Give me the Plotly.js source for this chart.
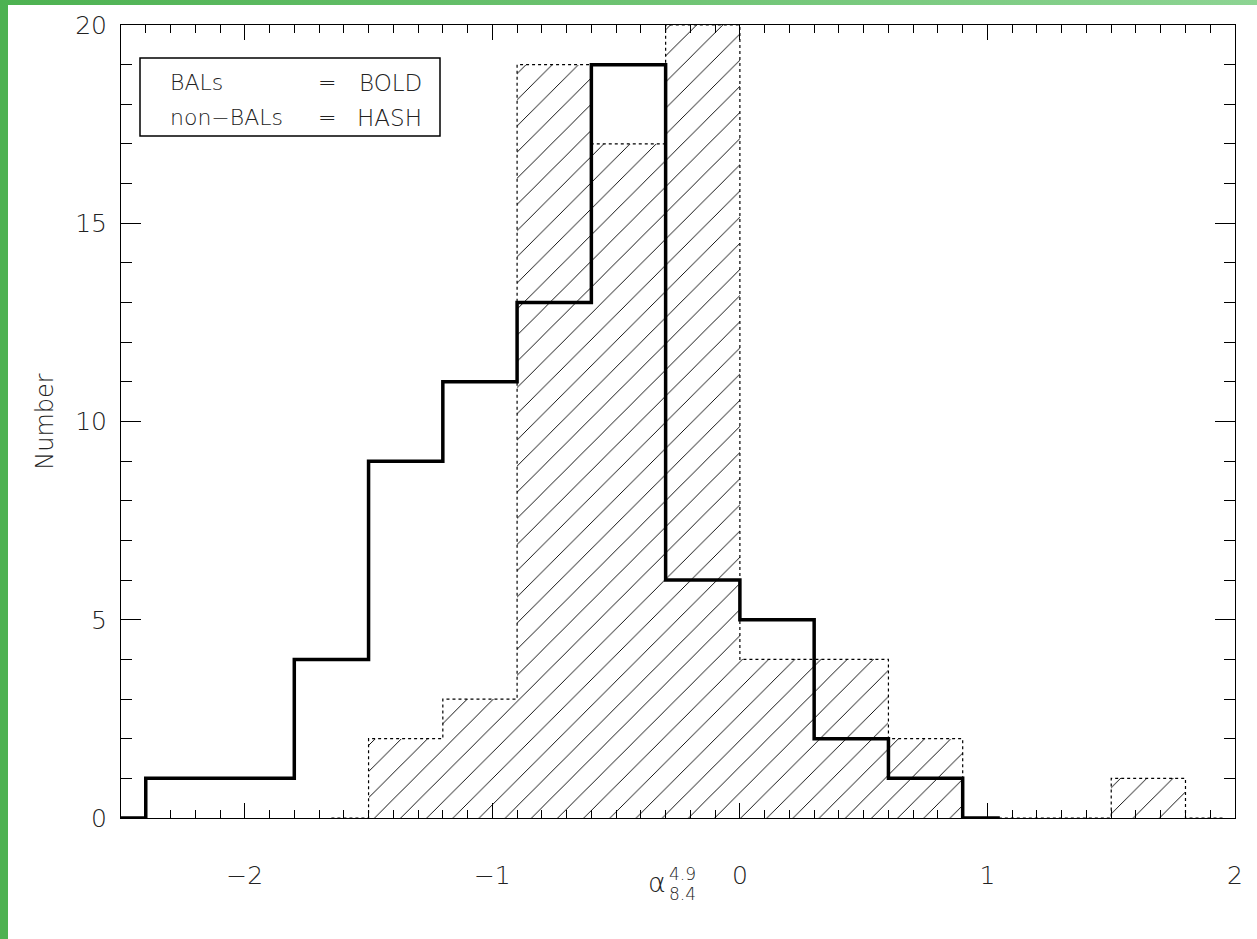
<!DOCTYPE html>
<html>
<head>
<meta charset="utf-8">
<script src="https://cdn.plot.ly/plotly-3.0.1.min.js"></script>
<style>
  html, body { margin:0; padding:0; background:#fff; }
  #wrap { position:relative; width:1257px; height:939px; overflow:hidden; }
  #leftbar { position:absolute; left:0; top:0; width:8px; height:939px; background:#4db251; z-index:5; }
  #topbar { position:absolute; left:0; top:0; width:1257px; height:5px; background:linear-gradient(to right,#4db251,#8dd493); z-index:5; }
  #chart { position:absolute; left:0; top:0; width:1257px; height:939px; }
</style>
</head>
<body>
<div id="wrap">
  <div id="chart"></div>
  <div id="leftbar"></div>
  <div id="topbar"></div>
</div>
<script>
// Bin centers (bin width 0.3) and counts, drawn in IDL psym=10 (histogram step) style
const balCenters    = [-2.55, -2.25, -1.95, -1.65, -1.35, -1.05, -0.75, -0.45, -0.15, 0.15, 0.45, 0.75, 1.05];
const balCounts     = [0, 1, 1, 4, 9, 11, 13, 19, 6, 5, 2, 1, 0];
const nonBalCenters = [-1.65, -1.35, -1.05, -0.75, -0.45, -0.15, 0.15, 0.45, 0.75, 1.05, 1.35, 1.65, 1.95];
const nonBalCounts  = [0, 2, 3, 19, 17, 20, 4, 4, 2, 0, 0, 1, 0];
const binWidth = 0.3;
const xTickVals = [-2, -1, 0, 1, 2];
const yTickVals = [0, 5, 10, 15, 20];
const legendLeft  = ["BALs", "non\u2212BALs"];
const legendRight = ["BOLD", "HASH"];

const FONT = "'DejaVu Sans', 'Liberation Sans', sans-serif";
const TXT = "#222";
const W = 200;

const traces = [
  {
    type: "bar",
    x: nonBalCenters,
    y: nonBalCounts,
    width: binWidth,
    marker: {
      color: "#ffffff",
      line: { width: 0 },
      pattern: { shape: "/", size: 18.5, solidity: 0.05, fgcolor: "#000000", bgcolor: "#ffffff" }
    },
    hoverinfo: "skip",
    showlegend: false
  },
  {
    type: "scatter",
    mode: "lines",
    x: nonBalCenters,
    y: nonBalCounts,
    line: { shape: "hvh", color: "#000000", width: 1.2, dash: "3px,3px" },
    hoverinfo: "skip",
    showlegend: false
  },
  {
    type: "scatter",
    mode: "lines",
    x: balCenters,
    y: balCounts,
    line: { shape: "hvh", color: "#000000", width: 3.5 },
    hoverinfo: "skip",
    showlegend: false
  }
];

const px = v => (v - 121) / 1114;
const py = v => (818 - v) / 793;

const annotations = [];
const legY = [83, 118];
for (let i = 0; i < 2; i++) {
  const f = { family: FONT, size: 22, color: TXT, weight: W };
  annotations.push({ xref: "paper", yref: "paper", x: px(168), y: py(legY[i]), xanchor: "left", yanchor: "middle",
    text: legendLeft[i], showarrow: false, font: f });
  annotations.push({ xref: "paper", yref: "paper", x: px(316), y: py(legY[i]), xanchor: "left", yanchor: "middle",
    text: "=", showarrow: false, font: f });
  annotations.push({ xref: "paper", yref: "paper", x: px(424), y: py(legY[i]), xanchor: "right", yanchor: "middle",
    text: legendRight[i], showarrow: false, font: { family: FONT, size: 23, color: TXT, weight: W } });
}
// x axis title: alpha with stacked sub/superscripts
annotations.push({ xref: "paper", yref: "paper", x: px(668), y: py(882), xanchor: "right", yanchor: "middle",
  text: "\u03b1", showarrow: false, font: { family: FONT, size: 27, color: TXT, weight: W } });
annotations.push({ xref: "paper", yref: "paper", x: px(667), y: py(874), xanchor: "left", yanchor: "middle",
  text: "4.9", showarrow: false, font: { family: FONT, size: 17, color: TXT, weight: W } });
annotations.push({ xref: "paper", yref: "paper", x: px(667), y: py(894), xanchor: "left", yanchor: "middle",
  text: "8.4", showarrow: false, font: { family: FONT, size: 17, color: TXT, weight: W } });

const layout = {
  width: 1257,
  height: 939,
  margin: { l: 121, r: 22, t: 25, b: 121 },
  paper_bgcolor: "#ffffff",
  plot_bgcolor: "#ffffff",
  showlegend: false,
  bargap: 0,
  xaxis: {
    range: [-2.5, 2],
    tickvals: xTickVals,
    ticktext: xTickVals.map(v => v < 0 ? "\u2212" + Math.abs(v) : String(v)),
    ticks: "inside",
    ticklen: 15,
    tickwidth: 1,
    tickcolor: "#000",
    minor: { dtick: 0.1, tick0: 0, ticks: "inside", ticklen: 8, tickcolor: "#000", tickwidth: 1, showgrid: false },
    showline: true,
    linecolor: "#000",
    linewidth: 1,
    mirror: "ticks",
    showgrid: false,
    zeroline: false,
    ticklabelstandoff: 35,
    tickfont: { family: FONT, size: 25, color: TXT, weight: W }
  },
  yaxis: {
    range: [0, 20],
    tickvals: yTickVals,
    ticks: "inside",
    ticklen: 20,
    tickwidth: 1,
    tickcolor: "#000",
    minor: { dtick: 1, tick0: 0, ticks: "inside", ticklen: 11, tickcolor: "#000", tickwidth: 1, showgrid: false },
    showline: true,
    linecolor: "#000",
    linewidth: 1,
    mirror: "ticks",
    showgrid: false,
    zeroline: false,
    ticklabelstandoff: 8,
    tickfont: { family: FONT, size: 25, color: TXT, weight: W },
    title: { text: "Number", standoff: 14, font: { family: FONT, size: 24, color: TXT, weight: W } }
  },
  shapes: [
    { type: "rect", xref: "paper", yref: "paper",
      x0: px(140), x1: px(440), y0: py(136), y1: py(58),
      line: { color: "#000", width: 1.5 }, fillcolor: "rgba(0,0,0,0)" }
  ],
  annotations: annotations
};

Plotly.newPlot("chart", traces, layout, { displayModeBar: false, staticPlot: true });
</script>
</body>
</html>
